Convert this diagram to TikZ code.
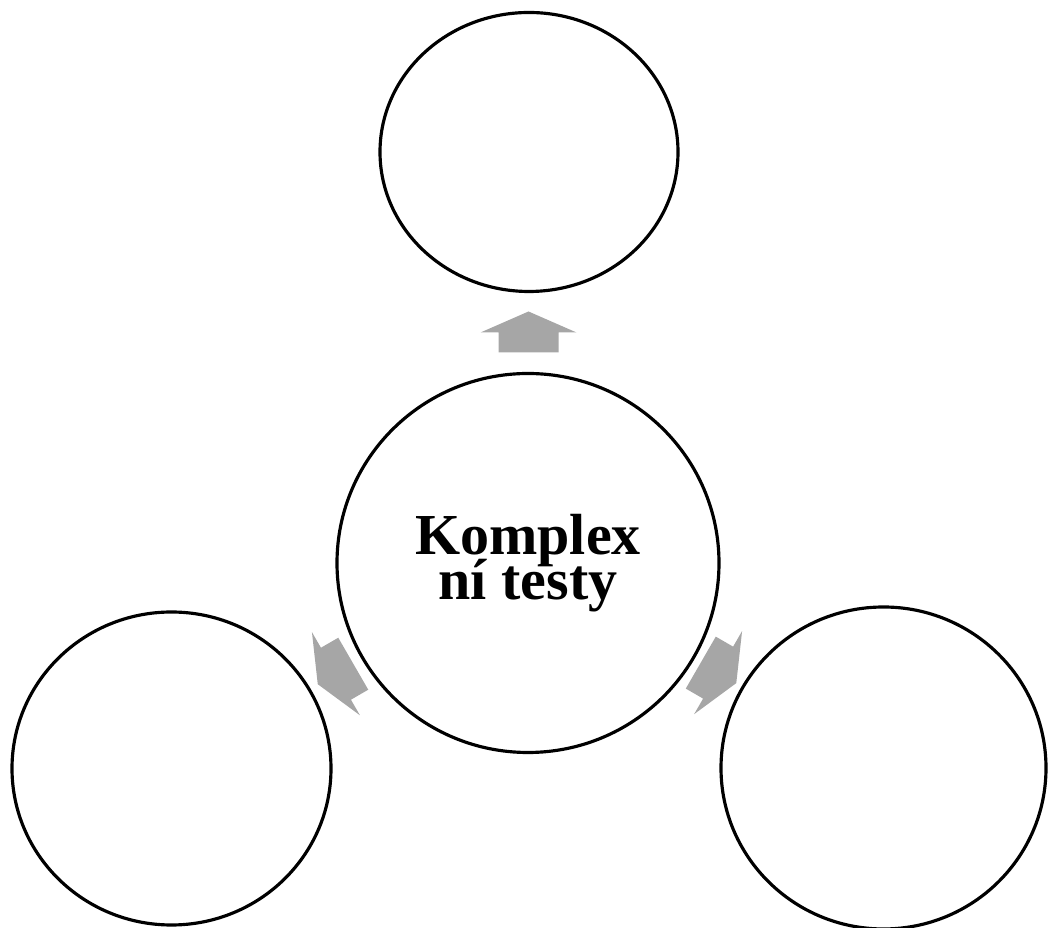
\documentclass[tikz,border=0pt]{standalone}
\usepackage{fontspec}
\setmainfont{Liberation Serif}
\usetikzlibrary{shapes.geometric,calc}
\definecolor{arrowgray}{RGB}{166,166,166}
\newcommand{\hubfont}{\bfseries\fontsize{16.5}{13}\selectfont\lineskiplimit=-100pt\relax}
\begin{document}
\begin{tikzpicture}[
       bubble/.style={ellipse, draw=black, line width=0.9pt, fill=white, inner sep=0pt, align=center},
       blockarrow/.pic={\fill[arrowgray] (-0.2,-0.3) -- (0,-0.3) -- (0,-0.48) -- (0.21,0) -- (0,0.48) -- (0,0.3) -- (-0.2,0.3) -- cycle;}
   ]
   \useasboundingbox (0,0) rectangle (10.48,-9.28);
   \node[bubble, minimum width=3.82cm, minimum height=3.79cm, font=\hubfont] (hub) at (5.28,-5.63) {Komplex\\ní testy};
   \node[bubble, minimum width=2.98cm, minimum height=2.79cm] (top) at (5.29,-1.52) {};
   \node[bubble, minimum width=3.19cm, minimum height=3.13cm] (left) at (1.715,-7.685) {};
   \node[bubble, minimum width=3.25cm, minimum height=3.22cm] (right) at (8.835,-7.68) {};

   \path ($(hub.north)!0.5!(top.south)$) pic[rotate=90] {blockarrow};
   \path ($(hub.210)!0.5!(left.30)$) pic[rotate=210] {blockarrow};
   \path ($(hub.-30)!0.5!(right.150)$) pic[rotate=-30] {blockarrow};
   \end{tikzpicture}
\end{document}
